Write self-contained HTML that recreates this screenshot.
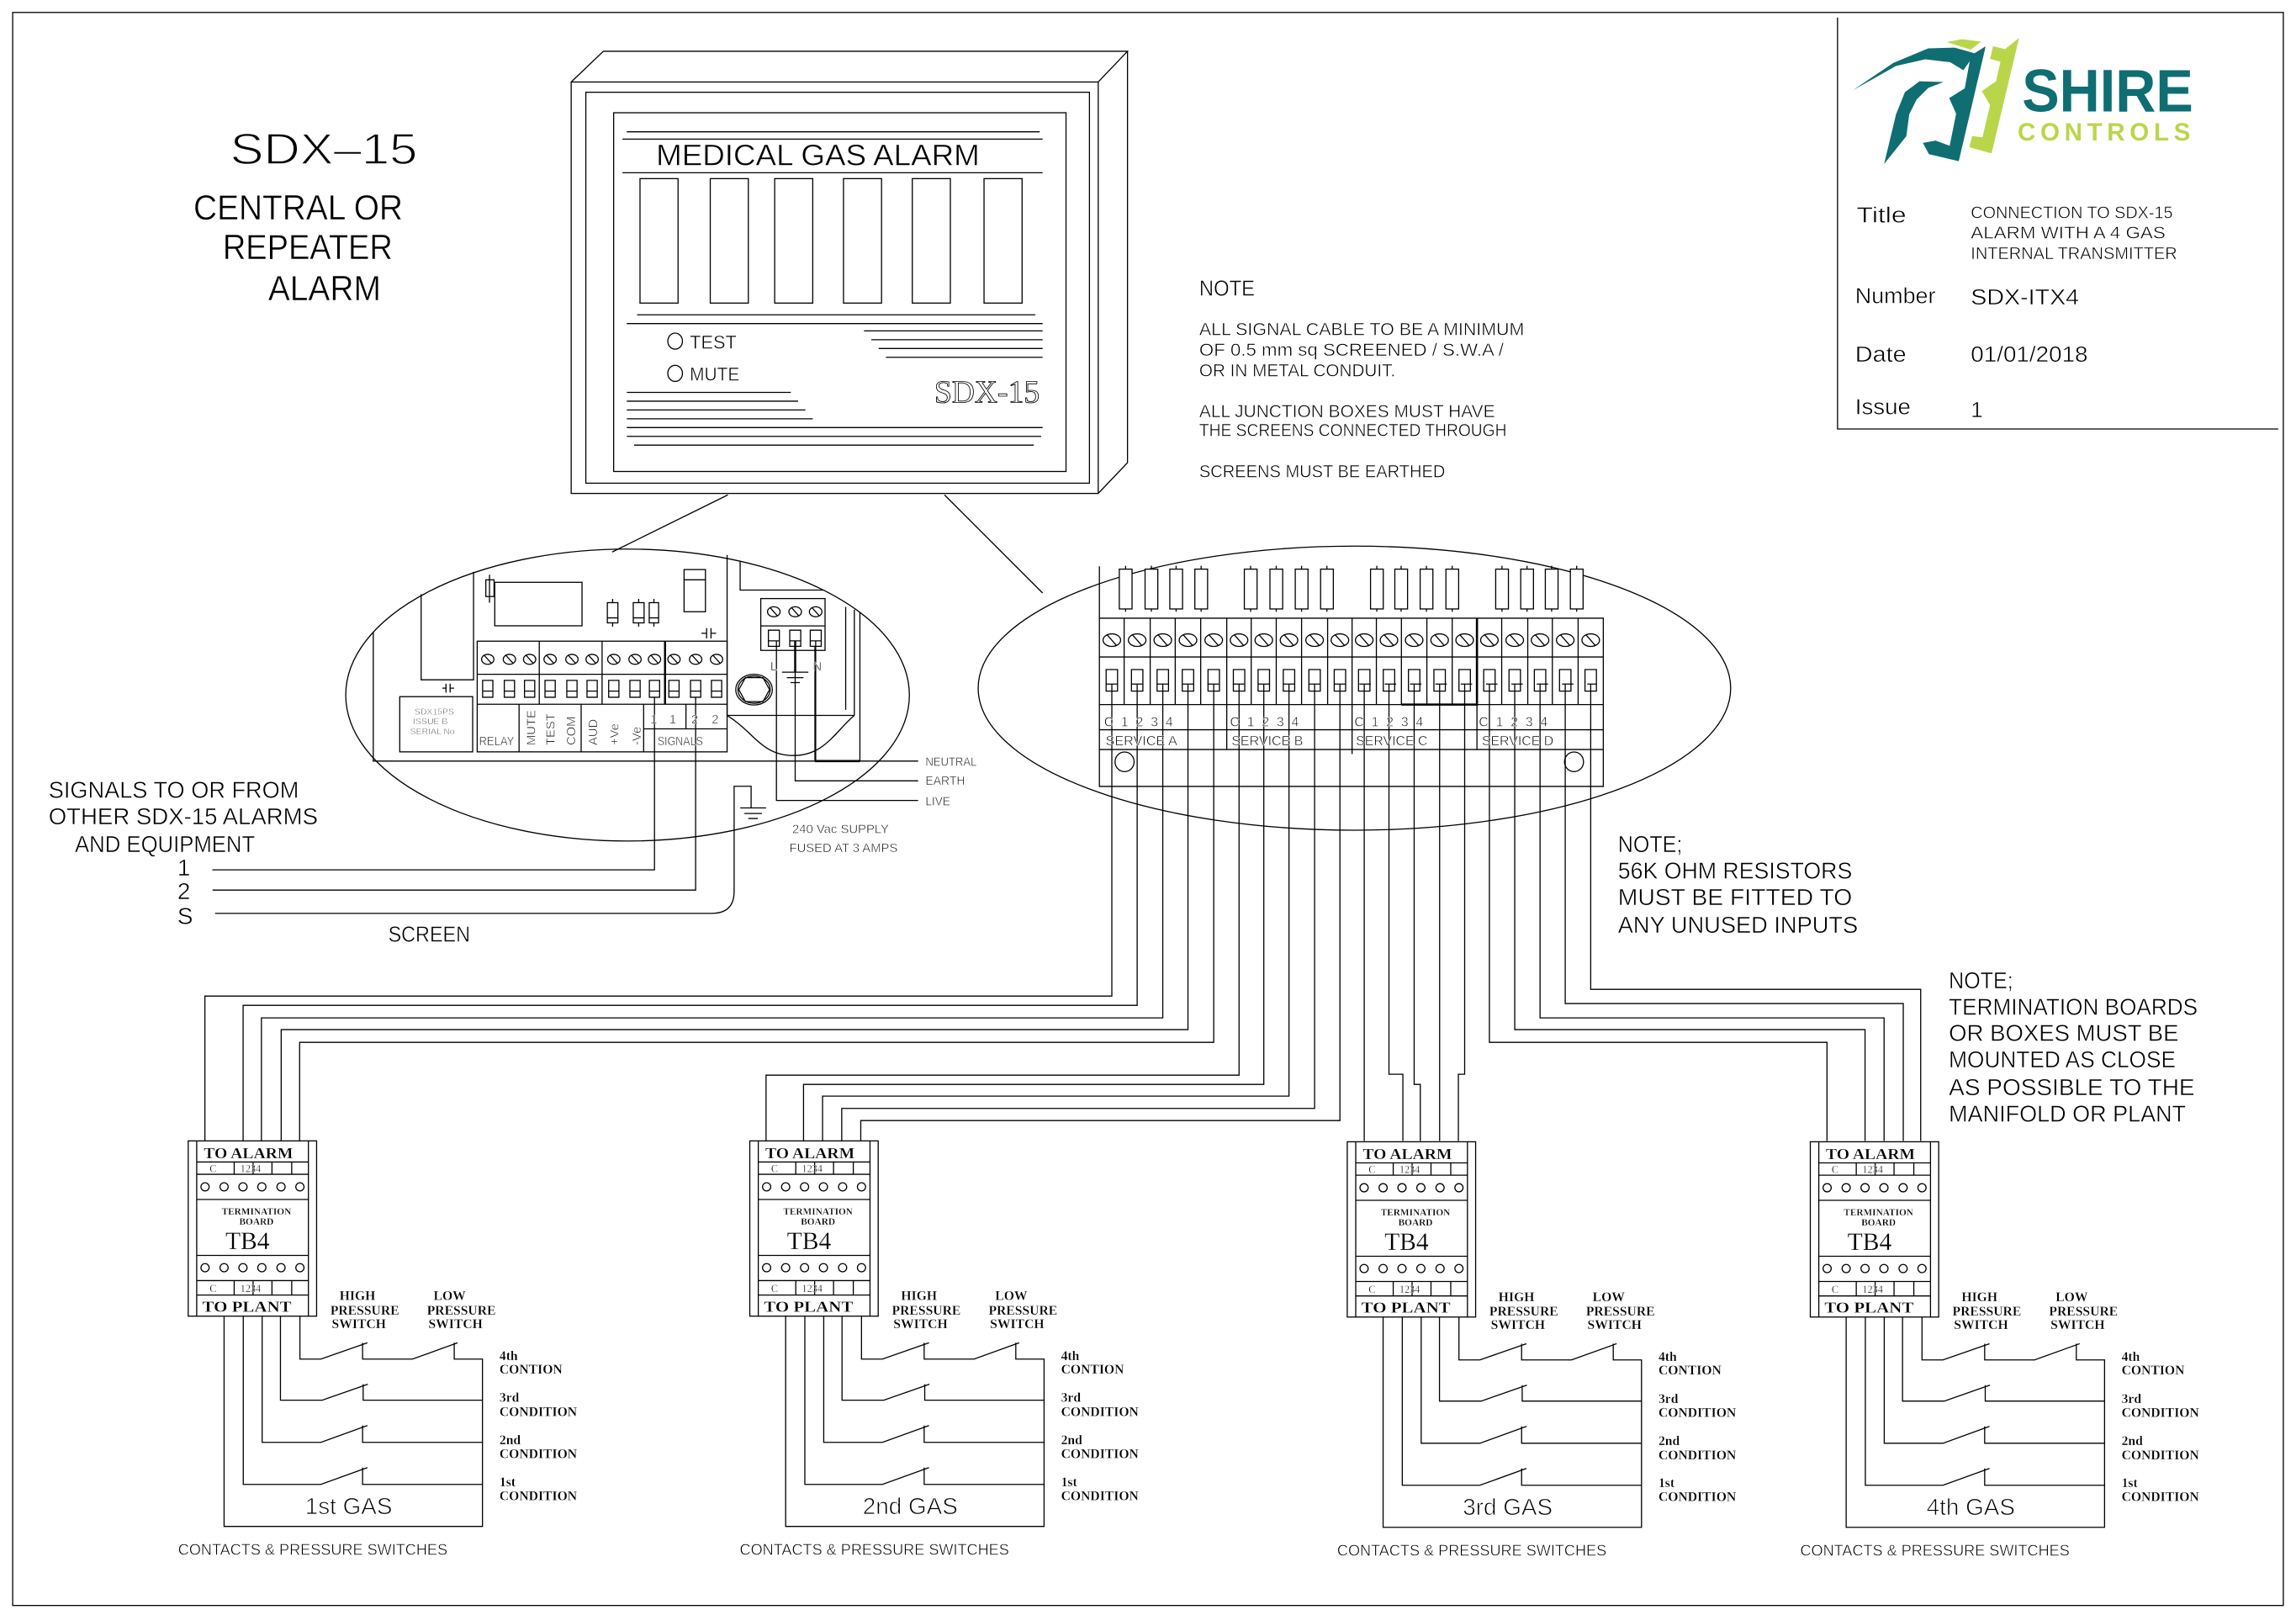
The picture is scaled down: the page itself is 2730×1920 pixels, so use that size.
<!DOCTYPE html>
<html><head><meta charset="utf-8"><style>
html,body{margin:0;padding:0;background:#fff}
svg{display:block}
text{font-family:"Liberation Sans",sans-serif;fill:#000;stroke:#fff;stroke-width:0.3}
.s text,text.s{font-family:"Liberation Serif",serif;font-weight:bold;stroke-width:0.15}
.sn text,text.sn{font-family:"Liberation Serif",serif;stroke-width:0.15}
text.ol{fill:none;stroke:#000;stroke-width:0.5}
</style></head><body>
<svg width="2730" height="1920" viewBox="0 0 1568 1103" xmlns="http://www.w3.org/2000/svg">
<rect width="1568" height="1103" fill="#fff"/>
<g fill="none" stroke="#000" stroke-width="0.75">
<rect x="8.5" y="8.5" width="1551" height="1088"/>
<path d="M1255,12 V293 H1556"/>
<rect x="390" y="56" width="360" height="281"/>
<path d="M390,56 L412,35 H770 L750,56 M770,35 V316 L750,337"/>
<rect x="400" y="63" width="344" height="267"/>
<rect x="419" y="77" width="309" height="245"/>
<path d="M428,90 H710 M425,95 H712 M425,118 H712 M435,215 H707 M428,221 H712 M590,226 H712 M595,232 H712 M600,238 H712 M605,244 H712 M428,268 H540 M428,274 H545 M428,280 H550 M428,286 H555 M428,292 H712 M428,298 H711 M433,304 H706"/>
<rect x="437" y="122" width="26" height="85"/><rect x="485" y="122" width="26" height="85"/><rect x="529" y="122" width="26" height="85"/><rect x="576" y="122" width="26" height="85"/><rect x="623" y="122" width="26" height="85"/><rect x="672" y="122" width="26" height="85"/>
<ellipse cx="461" cy="233" rx="5" ry="5.5"/><ellipse cx="461" cy="255" rx="5" ry="5.5"/>
<path d="M497,338 L418,377 M645,338 L712,405"/>
<ellipse cx="428.5" cy="474.7" rx="192.5" ry="99.7"/>
<ellipse cx="925" cy="470" rx="257" ry="97"/>
<path d="M254.8,431.8 V519.8 H627 M323.3,390.6 V464.3 H287.5 V405.9"/>
<path d="M304.5,467 V473 M307.3,467 V473 M302,470 H304.5 M307.3,470 H310"/>
<rect x="272.9" y="475.8" width="49.8" height="37.7"/>
<path d="M334.2,392.5 V411.6"/><rect x="331.7" y="396" width="5.6" height="11.4"/>
<rect x="337.8" y="397.7" width="59.6" height="29.7"/>
<path d="M418.3,409 V428 M436.1,409 V428 M446.5,409 V428"/>
<rect x="414.7" y="411.6" width="7.2" height="13.8" fill="#fff"/><rect x="432.4" y="411.6" width="7.4" height="13.8" fill="#fff"/><rect x="443.3" y="411.6" width="6.4" height="13.8" fill="#fff"/>
<path d="M414.7,422 H421.9 M432.4,422 H439.8 M443.3,422 H449.7"/>
<rect x="467.1" y="389" width="14.6" height="28.8"/><path d="M467.1,396 H481.7"/>
<path d="M482.5,429 V436 M485.5,429 V436 M479,432.5 H482.5 M485.5,432.5 H489"/>
<rect x="325.8" y="437.9" width="170.7" height="75.6"/>
<path d="M325.8,460.5 H496.5 M325.8,481 H496.5 M439.5,497.8 H496.5 M368.2,437.9 V481 M411.1,437.9 V481 M354.4,481 V513.5 M396.8,481 V513.5 M439.5,481 V513.5 M468.4,481 V497.8"/>
<path d="M454.1,437.9 V481" stroke-width="1.4"/>
<g>
<ellipse cx="333" cy="450.3" rx="4.2" ry="3.4"/><ellipse cx="347.8" cy="450.3" rx="4.2" ry="3.4"/><ellipse cx="361.6" cy="450.3" rx="4.2" ry="3.4"/><ellipse cx="375.6" cy="450.3" rx="4.2" ry="3.4"/><ellipse cx="390.5" cy="450.3" rx="4.2" ry="3.4"/><ellipse cx="404.3" cy="450.3" rx="4.2" ry="3.4"/><ellipse cx="419.1" cy="450.3" rx="4.2" ry="3.4"/><ellipse cx="433.6" cy="450.3" rx="4.2" ry="3.4"/><ellipse cx="446.9" cy="450.3" rx="4.2" ry="3.4"/><ellipse cx="460.2" cy="450.3" rx="4.2" ry="3.4"/><ellipse cx="475" cy="450.3" rx="4.2" ry="3.4"/><ellipse cx="489.3" cy="450.3" rx="4.2" ry="3.4"/>
</g>
<path d="M330.5,447.5 L335.5,453 M345.3,447.5 L350.3,453 M359.1,447.5 L364.1,453 M373.1,447.5 L378.1,453 M388,447.5 L393,453 M401.8,447.5 L406.8,453 M416.6,447.5 L421.6,453 M431.1,447.5 L436.1,453 M444.4,447.5 L449.4,453 M457.7,447.5 L462.7,453 M472.5,447.5 L477.5,453 M486.8,447.5 L491.8,453"/>
<path d="M329.5,464.7 h7 v11.5 h-7 z M344.3,464.7 h7 v11.5 h-7 z M358.1,464.7 h7 v11.5 h-7 z M372.1,464.7 h7 v11.5 h-7 z M387,464.7 h7 v11.5 h-7 z M400.8,464.7 h7 v11.5 h-7 z M415.6,464.7 h7 v11.5 h-7 z M430.1,464.7 h7 v11.5 h-7 z M443.4,464.7 h7 v11.5 h-7 z M456.7,464.7 h7 v11.5 h-7 z M471.5,464.7 h7 v11.5 h-7 z M485.8,464.7 h7 v11.5 h-7 z"/>
<path d="M329.5,472 h7 M344.3,472 h7 M358.1,472 h7 M372.1,472 h7 M387,472 h7 M400.8,472 h7 M415.6,472 h7 M430.1,472 h7 M443.4,472 h7 M456.7,472 h7 M471.5,472 h7 M485.8,472 h7"/>
<path d="M496.5,379 V488.6 H583.4 M505.4,383 V403 H562.2 M577.5,414.5 V484.8 M583.4,416.4 V488.6 M587.2,418.3 V519.8 M556.5,441 V519.8"/>
<path d="M556.5,519.8 H587.2" stroke-width="1.5"/>
<path d="M496.5,488.6 C515,500 520,516 541.7,516 C563,516 570,500 583.4,488.6"/>
<rect x="519.5" y="408.8" width="43.9" height="35.4"/><path d="M519.5,427.5 H563.4"/>
<ellipse cx="528.4" cy="417.8" rx="4.3" ry="3.4"/><ellipse cx="543" cy="417.8" rx="4.3" ry="3.4"/><ellipse cx="557" cy="417.8" rx="4.3" ry="3.4"/>
<path d="M525.9,415 L530.9,420.6 M540.5,415 L545.5,420.6 M554.5,415 L559.5,420.6"/>
<path d="M524.7,430.4 h7.5 v11 h-7.5 z M539.3,430.4 h7.5 v11 h-7.5 z M553.3,430.4 h7.5 v11 h-7.5 z M524.7,437.7 h7.5 M539.3,437.7 h7.5 M553.3,437.7 h7.5"/>
<path d="M543,437.7 V533.3 H627 M530.2,437.7 V546.7 H627 M557,437.7 V519.8" />
<path d="M543,437.7 V459" stroke-width="1.4"/>
<path d="M534,459.1 H552 M537.3,462.8 H548.7 M539.8,466.2 H546.2"/>
<ellipse cx="514.9" cy="471" rx="12.5" ry="10.5"/><ellipse cx="514.9" cy="471" rx="11" ry="9.3"/>
<path d="M509,462.8 L521,462.8 L525.5,471 L521,479.2 L509,479.2 L504.5,471 Z"/>
<path d="M446.9,476 V594.1 H144.9 M475,476 V607.9 H145 M146.8,623.8 H485.9 Q501.3,623.8 501.3,608.8 V537 H512.9 V551.8"/>
<path d="M505.5,551.8 H523.1 M508.3,555.6 H520.3 M511,559 H517.5"/>
<path d="M750.8,386.8 V537.1 H1095 V422.2 H750.8 M750.8,448.7 H1095 M750.8,481.2 H1095 M750.8,498.4 H1095 M750.8,511.9 H1095 M837.8,481.2 V511.9 M923.4,481.2 V515 M1008.7,481.2 V511.9"/>
<path d="M767.7,422.2 V481.2 M785.5,422.2 V481.2 M802.6,422.2 V481.2 M820,422.2 V481.2 M837.8,422.2 V481.2 M854.5,422.2 V481.2 M871.6,422.2 V481.2 M888.9,422.2 V481.2 M906.7,422.2 V481.2 M923.4,422.2 V481.2 M940,422.2 V481.2 M957.1,448.7 V481.2 M974.5,422.2 V481.2 M991.8,422.2 V481.2 M1025.6,422.2 V481.2 M1043.4,422.2 V481.2 M1060.2,422.2 V481.2 M1077.8,422.2 V481.2 M957.1,422.2 V448.7"/>
<path d="M1008.7,422.2 V481.2 H957.1" stroke-width="1.5"/>
<path d="M768.7,386.4 V417.8 M786.3,386.4 V417.8 M803.2,386.4 V417.8 M820.3,386.4 V417.8 M854.1,386.4 V417.8 M871.6,386.4 V417.8 M888.9,386.4 V417.8 M906.2,386.4 V417.8 M940.3,386.4 V417.8 M956.9,386.4 V417.8 M974.2,386.4 V417.8 M991.8,386.4 V417.8 M1025.8,386.4 V417.8 M1042.9,386.4 V417.8 M1059.7,386.4 V417.8 M1076.8,386.4 V417.8"/>
<g fill="#fff">
<rect x="764.4" y="388.7" width="8.7" height="27.2"/><rect x="782" y="388.7" width="8.7" height="27.2"/><rect x="798.9" y="388.7" width="8.7" height="27.2"/><rect x="816" y="388.7" width="8.7" height="27.2"/>
<rect x="849.8" y="388.7" width="8.7" height="27.2"/><rect x="867.3" y="388.7" width="8.7" height="27.2"/><rect x="884.6" y="388.7" width="8.7" height="27.2"/><rect x="901.9" y="388.7" width="8.7" height="27.2"/>
<rect x="936" y="388.7" width="8.7" height="27.2"/><rect x="952.6" y="388.7" width="8.7" height="27.2"/><rect x="969.9" y="388.7" width="8.7" height="27.2"/><rect x="987.5" y="388.7" width="8.7" height="27.2"/>
<rect x="1021.5" y="388.7" width="8.7" height="27.2"/><rect x="1038.6" y="388.7" width="8.7" height="27.2"/><rect x="1055.4" y="388.7" width="8.7" height="27.2"/><rect x="1072.5" y="388.7" width="8.7" height="27.2"/>
</g>
<g>
<ellipse cx="759.3" cy="437.2" rx="6" ry="4.3"/><ellipse cx="776.6" cy="437.2" rx="6" ry="4.3"/><ellipse cx="794.1" cy="437.2" rx="6" ry="4.3"/><ellipse cx="811.3" cy="437.2" rx="6" ry="4.3"/><ellipse cx="828.9" cy="437.2" rx="6" ry="4.3"/><ellipse cx="846.2" cy="437.2" rx="6" ry="4.3"/><ellipse cx="863.1" cy="437.2" rx="6" ry="4.3"/><ellipse cx="880.3" cy="437.2" rx="6" ry="4.3"/><ellipse cx="897.8" cy="437.2" rx="6" ry="4.3"/><ellipse cx="915.1" cy="437.2" rx="6" ry="4.3"/><ellipse cx="931.7" cy="437.2" rx="6" ry="4.3"/><ellipse cx="948.6" cy="437.2" rx="6" ry="4.3"/><ellipse cx="965.8" cy="437.2" rx="6" ry="4.3"/><ellipse cx="983.2" cy="437.2" rx="6" ry="4.3"/><ellipse cx="1000.3" cy="437.2" rx="6" ry="4.3"/><ellipse cx="1017.2" cy="437.2" rx="6" ry="4.3"/><ellipse cx="1034.5" cy="437.2" rx="6" ry="4.3"/><ellipse cx="1051.8" cy="437.2" rx="6" ry="4.3"/><ellipse cx="1069" cy="437.2" rx="6" ry="4.3"/><ellipse cx="1086.4" cy="437.2" rx="6" ry="4.3"/>
</g>
<path d="M756,433.5 L762.6,441 M773.3,433.5 L779.9,441 M790.8,433.5 L797.4,441 M808,433.5 L814.6,441 M825.6,433.5 L832.2,441 M842.9,433.5 L849.5,441 M859.8,433.5 L866.4,441 M877,433.5 L883.6,441 M894.5,433.5 L901.1,441 M911.8,433.5 L918.4,441 M928.4,433.5 L935,441 M945.3,433.5 L951.9,441 M962.5,433.5 L969.1,441 M979.9,433.5 L986.5,441 M997,433.5 L1003.6,441 M1013.9,433.5 L1020.5,441 M1031.2,433.5 L1037.8,441 M1048.5,433.5 L1055.1,441 M1065.7,433.5 L1072.3,441 M1083.1,433.5 L1089.7,441"/>
<path d="M755.4,457.3 h7.8 v14.7 h-7.8 z M772.7,457.3 h7.8 v14.7 h-7.8 z M790.2,457.3 h7.8 v14.7 h-7.8 z M807.4,457.3 h7.8 v14.7 h-7.8 z M825,457.3 h7.8 v14.7 h-7.8 z M842.3,457.3 h7.8 v14.7 h-7.8 z M859.2,457.3 h7.8 v14.7 h-7.8 z M876.4,457.3 h7.8 v14.7 h-7.8 z M893.9,457.3 h7.8 v14.7 h-7.8 z M911.2,457.3 h7.8 v14.7 h-7.8 z M927.8,457.3 h7.8 v14.7 h-7.8 z M944.7,457.3 h7.8 v14.7 h-7.8 z M961.9,457.3 h7.8 v14.7 h-7.8 z M979.3,457.3 h7.8 v14.7 h-7.8 z M996.4,457.3 h7.8 v14.7 h-7.8 z M1013.3,457.3 h7.8 v14.7 h-7.8 z M1030.6,457.3 h7.8 v14.7 h-7.8 z M1047.9,457.3 h7.8 v14.7 h-7.8 z M1065.1,457.3 h7.8 v14.7 h-7.8 z M1082.5,457.3 h7.8 v14.7 h-7.8 z"/>
<path d="M755.4,467.2 H1090.3" stroke-dasharray="7.8,9.5"/>
<ellipse cx="768" cy="520.3" rx="6.5" ry="6.7"/><ellipse cx="1075" cy="520.3" rx="6.5" ry="6.7"/>
<path d="M759.3,467.2 V680.3 H139.8 V779.2 M776.6,467.2 V686.6 H165.9 V779.2 M794.1,467.2 V695.2 H178.4 V779.2 M811.3,467.2 V703.2 H191.9 V779.2 M828.9,467.2 V711.9 H204.5 V779.2"/>
<path d="M846.2,467.2 V734.3 H523.1 V779.2 M863.1,467.2 V740.6 H548.7 V779.2 M880.3,467.2 V748.6 H561.7 V779.2 M897.8,467.2 V757 H574.8 V779.2 M915.1,467.2 V765.3 H587.8 V779.2"/>
<path d="M931.7,467.2 V779.2 M948.6,467.2 V733.7 H958.1 V779.2 M965.8,467.2 V740.6 H970 V779.2 M983.2,467.2 V779.2 M1000.3,467.2 V733.7 H996 V779.2"/>
<path d="M1017.2,467.2 V711.9 H1247.8 V779.2 M1034.5,467.2 V703.2 H1273.8 V779.2 M1051.8,467.2 V695.2 H1286.8 V779.2 M1069,467.2 V685.4 H1299.9 V779.2 M1086.4,467.2 V675.7 H1311.8 V779.2"/>
<g id="tb">
<rect x="128.4" y="779.2" width="87.7" height="119.7"/>
<path d="M134.2,779.2 V898.9 M210.5,779.2 V898.9 M134.2,793.6 H210.5 M134.2,802 H210.5 M134.2,819.2 H210.5 M134.2,857.4 H210.5 M134.2,874.6 H210.5 M134.2,884.5 H210.5"/>
<path d="M159.8,793.6 V802 M185.6,793.6 V802 M199.1,793.6 V802 M172.7,794 V802 M159.8,874.6 V884.5 M185.6,874.6 V884.5 M199.1,874.6 V884.5 M172.7,875 V884.5"/>
<circle cx="139.9" cy="810.6" r="2.8"/><circle cx="152.9" cy="810.6" r="2.8"/><circle cx="165.8" cy="810.6" r="2.8"/><circle cx="178.7" cy="810.6" r="2.8"/><circle cx="191.8" cy="810.6" r="2.8"/><circle cx="204.7" cy="810.6" r="2.8"/>
<circle cx="139.9" cy="865.8" r="2.8"/><circle cx="152.9" cy="865.8" r="2.8"/><circle cx="165.8" cy="865.8" r="2.8"/><circle cx="178.7" cy="865.8" r="2.8"/><circle cx="191.8" cy="865.8" r="2.8"/><circle cx="204.7" cy="865.8" r="2.8"/>
<path d="M204.7,898.9 V928.2 H219 L250.8,917.1 M247.5,917.1 V928.2 H281.6 L312.4,917.1 M310.1,917.1 V928.2 H329.4 V1042.5 H152.9 V898.9"/>
<path d="M191.4,898.9 V956.3 H219.9 L251.1,945.4 M247.9,945.4 V956.3 H329.4"/>
<path d="M178.9,898.9 V985.1 H219 L250.8,973.6 M247.5,973.6 V985.1 H329.4"/>
<path d="M166,898.9 V1013.8 H219 L250.8,1002.3 M247.5,1002.3 V1013.8 H329.4"/>
</g>
<use href="#tb" transform="translate(383.6,0)"/>
<use href="#tb" transform="translate(791.7,0.6)"/>
<use href="#tb" transform="translate(1108,0.6)"/>
</g>
<text x="638" y="275" class="sn ol" font-size="22" textLength="72" lengthAdjust="spacingAndGlyphs">SDX-15</text>
<g>
<polygon fill="#0e6e72" points="1265.4,61.7 1293,43 1317,33 1335,32.5 1349,36.5 1341,48 1332,42.5 1315,40.5 1295,45"/>
<polygon fill="#0e6e72" points="1356.2,31.6 1337.8,110.1 1317.4,105.3 1313.3,97.6 1322,96 1331.6,99.6 1336,77.6 1331.3,67 1341.9,60.3 1346,38"/>
<polygon fill="#0e6e72" points="1286.8,112 1295,78 1301,63 1311,55.5 1327.5,56 1317,60 1309,68 1304,78 1302,93"/>
<polygon fill="#b9d64a" points="1329.6,28.7 1340,26.8 1353,28.4 1346,34 "/>
<polygon fill="#b9d64a" points="1361.2,31.6 1369.4,33.5 1379,25.9 1360.2,104.8 1345,100.5 1347,92.9 1354,93.8 1359.2,71.8 1353.5,62.2 1363.3,55.5 1366.3,42.1 1359.2,40.2"/>
<text x="1381" y="76" font-size="41" font-weight="bold" style="fill:#0e6e72;stroke:none" textLength="117" lengthAdjust="spacingAndGlyphs">SHIRE</text>
<text x="1378" y="96" font-size="17" font-weight="bold" style="fill:#b9d64a;stroke:none" textLength="118" lengthAdjust="spacing">CONTROLS</text>
</g>
<text x="157" y="112" font-size="30" textLength="128" lengthAdjust="spacingAndGlyphs" style="stroke-width:0.8">SDX–15</text>
<g style="stroke-width:0.7">
<text x="132" y="150" font-size="24" textLength="143" lengthAdjust="spacingAndGlyphs">CENTRAL OR</text>
<text x="152" y="177" font-size="24" textLength="116" lengthAdjust="spacingAndGlyphs">REPEATER</text>
<text x="183" y="205" font-size="24" textLength="77" lengthAdjust="spacingAndGlyphs">ALARM</text>
<text x="448" y="113" font-size="20" textLength="221" lengthAdjust="spacingAndGlyphs">MEDICAL GAS ALARM</text>
</g>
<text x="471" y="238" font-size="13" textLength="32" lengthAdjust="spacingAndGlyphs">TEST</text>
<text x="471" y="260" font-size="13" textLength="34" lengthAdjust="spacingAndGlyphs">MUTE</text>
<text x="819" y="202" font-size="15" textLength="38" lengthAdjust="spacingAndGlyphs">NOTE</text>
<g font-size="12">
<text x="819" y="229" textLength="222" lengthAdjust="spacingAndGlyphs">ALL SIGNAL CABLE TO BE A MINIMUM</text>
<text x="819" y="243" textLength="208" lengthAdjust="spacingAndGlyphs">OF 0.5 mm sq SCREENED / S.W.A /</text>
<text x="819" y="257" textLength="134" lengthAdjust="spacingAndGlyphs">OR IN METAL CONDUIT.</text>
<text x="819" y="285" textLength="202" lengthAdjust="spacingAndGlyphs">ALL JUNCTION BOXES MUST HAVE</text>
<text x="819" y="298" textLength="210" lengthAdjust="spacingAndGlyphs">THE SCREENS CONNECTED THROUGH</text>
<text x="819" y="326" textLength="168" lengthAdjust="spacingAndGlyphs">SCREENS MUST BE EARTHED</text>
</g>
<g font-size="16" style="stroke-width:0.5">
<text x="1105" y="582" textLength="44" lengthAdjust="spacingAndGlyphs">NOTE;</text>
<text x="1105" y="600" textLength="160" lengthAdjust="spacingAndGlyphs">56K OHM RESISTORS</text>
<text x="1105" y="618" textLength="160" lengthAdjust="spacingAndGlyphs">MUST BE FITTED TO</text>
<text x="1105" y="637" textLength="164" lengthAdjust="spacingAndGlyphs">ANY UNUSED INPUTS</text>
<text x="1331" y="675" textLength="44" lengthAdjust="spacingAndGlyphs">NOTE;</text>
<text x="1331" y="693" textLength="170" lengthAdjust="spacingAndGlyphs">TERMINATION BOARDS</text>
<text x="1331" y="711" textLength="157" lengthAdjust="spacingAndGlyphs">OR BOXES MUST BE</text>
<text x="1331" y="729" textLength="155" lengthAdjust="spacingAndGlyphs">MOUNTED AS CLOSE</text>
<text x="1331" y="748" textLength="168" lengthAdjust="spacingAndGlyphs">AS POSSIBLE TO THE</text>
<text x="1331" y="766" textLength="162" lengthAdjust="spacingAndGlyphs">MANIFOLD OR PLANT</text>
<text x="33" y="545" textLength="171" lengthAdjust="spacingAndGlyphs">SIGNALS TO OR FROM</text>
<text x="33" y="563" textLength="184" lengthAdjust="spacingAndGlyphs">OTHER SDX-15 ALARMS</text>
<text x="51" y="582" textLength="123" lengthAdjust="spacingAndGlyphs">AND EQUIPMENT</text>
<text x="121" y="598">1</text>
<text x="121" y="614">2</text>
<text x="121" y="631">S</text>
</g>
<text x="265" y="643" font-size="15" textLength="56" lengthAdjust="spacingAndGlyphs">SCREEN</text>
<g font-size="8.5">
<text x="541" y="569" textLength="66" lengthAdjust="spacingAndGlyphs">240 Vac SUPPLY</text>
<text x="539" y="582" textLength="74" lengthAdjust="spacingAndGlyphs">FUSED AT 3 AMPS</text>
<text x="632" y="523" textLength="35" lengthAdjust="spacingAndGlyphs">NEUTRAL</text>
<text x="632" y="536" textLength="27" lengthAdjust="spacingAndGlyphs">EARTH</text>
<text x="632" y="550" textLength="17" lengthAdjust="spacingAndGlyphs">LIVE</text>
</g>
<g font-size="6">
<text x="283" y="488">SDX15PS</text><text x="282" y="494.5">ISSUE B</text><text x="280" y="501.5">SERIAL No</text>
</g>
<g font-size="8.5">
<text x="327" y="509" textLength="24" lengthAdjust="spacingAndGlyphs">RELAY</text>
<text x="449" y="509" textLength="31" lengthAdjust="spacingAndGlyphs">SIGNALS</text>
<text x="444" y="494">1</text><text x="457" y="494">1</text><text x="472" y="494">2</text><text x="486" y="494">2</text>
<text x="526" y="458">L</text><text x="555" y="458">N</text>
<text transform="translate(365.5,509) rotate(-90)">MUTE</text>
<text transform="translate(378.8,509) rotate(-90)">TEST</text>
<text transform="translate(392.9,509) rotate(-90)">COM</text>
<text transform="translate(407.7,509) rotate(-90)">AUD</text>
<text transform="translate(422.5,509) rotate(-90)">+Ve</text>
<text transform="translate(437.6,509) rotate(-90)">-Ve</text>
</g>
<g font-size="9">
<text x="754" y="496" textLength="47" lengthAdjust="spacing">C1234</text>
<text x="840" y="496" textLength="47" lengthAdjust="spacing">C1234</text>
<text x="925" y="496" textLength="47" lengthAdjust="spacing">C1234</text>
<text x="1010" y="496" textLength="47" lengthAdjust="spacing">C1234</text>
<text x="755" y="509" textLength="49" lengthAdjust="spacingAndGlyphs">SERVICE A</text>
<text x="841" y="509" textLength="49" lengthAdjust="spacingAndGlyphs">SERVICE B</text>
<text x="926" y="509" textLength="49" lengthAdjust="spacingAndGlyphs">SERVICE C</text>
<text x="1012" y="509" textLength="49" lengthAdjust="spacingAndGlyphs">SERVICE D</text>
</g>
<text x="1268" y="152" font-size="15" textLength="34" lengthAdjust="spacingAndGlyphs">Title</text>
<g font-size="11.5">
<text x="1346" y="149" textLength="138" lengthAdjust="spacingAndGlyphs">CONNECTION TO SDX-15</text>
<text x="1346" y="163" textLength="133" lengthAdjust="spacingAndGlyphs">ALARM WITH A 4 GAS</text>
<text x="1346" y="177" textLength="141" lengthAdjust="spacingAndGlyphs">INTERNAL TRANSMITTER</text>
</g>
<g font-size="15">
<text x="1267" y="207" textLength="55" lengthAdjust="spacingAndGlyphs">Number</text>
<text x="1346" y="208" textLength="74" lengthAdjust="spacingAndGlyphs">SDX-ITX4</text>
<text x="1267" y="247" textLength="35" lengthAdjust="spacingAndGlyphs">Date</text>
<text x="1346" y="247" textLength="80" lengthAdjust="spacingAndGlyphs">01/01/2018</text>
<text x="1267" y="283" textLength="38" lengthAdjust="spacingAndGlyphs">Issue</text>
<text x="1346" y="285">1</text>
</g>
<g>
<text class="s" x="139" y="791" font-size="10.5" textLength="61" lengthAdjust="spacingAndGlyphs">TO ALARM</text>
<text class="s" x="138" y="896" font-size="10.5" textLength="61" lengthAdjust="spacingAndGlyphs">TO PLANT</text>
<text class="sn" x="143" y="800.5" font-size="7">C</text><text class="sn" x="164" y="800.5" font-size="7">1234</text>
<text class="sn" x="143" y="882.5" font-size="7">C</text><text class="sn" x="164" y="882.5" font-size="7">1234</text>
<text class="s" x="175" y="829.5" font-size="6.5" text-anchor="middle">TERMINATION</text>
<text class="s" x="175" y="836.5" font-size="6.5" text-anchor="middle">BOARD</text>
<text class="sn" x="168.9" y="853" font-size="17" text-anchor="middle">TB4</text>
<g class="s" font-size="9" text-anchor="middle">
<text x="244" y="888">HIGH</text><text x="249" y="898">PRESSURE</text><text x="245" y="907">SWITCH</text>
<text x="307" y="888">LOW</text><text x="315" y="898">PRESSURE</text><text x="311" y="907">SWITCH</text>
</g>
<g class="s" font-size="9">
<text x="341" y="929">4th</text><text x="341" y="938">CONTION</text>
<text x="341" y="957.5">3rd</text><text x="341" y="967">CONDITION</text>
<text x="341" y="986.5">2nd</text><text x="341" y="996">CONDITION</text>
<text x="341" y="1015">1st</text><text x="341" y="1024.5">CONDITION</text>
</g>
<text x="238" y="1034" font-size="16" text-anchor="middle" style="stroke-width:0.5">1st GAS</text>
<text x="121.5" y="1062" font-size="10.5" textLength="184" lengthAdjust="spacingAndGlyphs">CONTACTS &amp; PRESSURE SWITCHES</text>
</g>
<g transform="translate(383.6,0)">
<text class="s" x="139" y="791" font-size="10.5" textLength="61" lengthAdjust="spacingAndGlyphs">TO ALARM</text>
<text class="s" x="138" y="896" font-size="10.5" textLength="61" lengthAdjust="spacingAndGlyphs">TO PLANT</text>
<text class="sn" x="143" y="800.5" font-size="7">C</text><text class="sn" x="164" y="800.5" font-size="7">1234</text>
<text class="sn" x="143" y="882.5" font-size="7">C</text><text class="sn" x="164" y="882.5" font-size="7">1234</text>
<text class="s" x="175" y="829.5" font-size="6.5" text-anchor="middle">TERMINATION</text>
<text class="s" x="175" y="836.5" font-size="6.5" text-anchor="middle">BOARD</text>
<text class="sn" x="168.9" y="853" font-size="17" text-anchor="middle">TB4</text>
<g class="s" font-size="9" text-anchor="middle">
<text x="244" y="888">HIGH</text><text x="249" y="898">PRESSURE</text><text x="245" y="907">SWITCH</text>
<text x="307" y="888">LOW</text><text x="315" y="898">PRESSURE</text><text x="311" y="907">SWITCH</text>
</g>
<g class="s" font-size="9">
<text x="341" y="929">4th</text><text x="341" y="938">CONTION</text>
<text x="341" y="957.5">3rd</text><text x="341" y="967">CONDITION</text>
<text x="341" y="986.5">2nd</text><text x="341" y="996">CONDITION</text>
<text x="341" y="1015">1st</text><text x="341" y="1024.5">CONDITION</text>
</g>
<text x="238" y="1034" font-size="16" text-anchor="middle" style="stroke-width:0.5">2nd GAS</text>
<text x="121.5" y="1062" font-size="10.5" textLength="184" lengthAdjust="spacingAndGlyphs">CONTACTS &amp; PRESSURE SWITCHES</text>
</g>
<g transform="translate(791.7,0.6)">
<text class="s" x="139" y="791" font-size="10.5" textLength="61" lengthAdjust="spacingAndGlyphs">TO ALARM</text>
<text class="s" x="138" y="896" font-size="10.5" textLength="61" lengthAdjust="spacingAndGlyphs">TO PLANT</text>
<text class="sn" x="143" y="800.5" font-size="7">C</text><text class="sn" x="164" y="800.5" font-size="7">1234</text>
<text class="sn" x="143" y="882.5" font-size="7">C</text><text class="sn" x="164" y="882.5" font-size="7">1234</text>
<text class="s" x="175" y="829.5" font-size="6.5" text-anchor="middle">TERMINATION</text>
<text class="s" x="175" y="836.5" font-size="6.5" text-anchor="middle">BOARD</text>
<text class="sn" x="168.9" y="853" font-size="17" text-anchor="middle">TB4</text>
<g class="s" font-size="9" text-anchor="middle">
<text x="244" y="888">HIGH</text><text x="249" y="898">PRESSURE</text><text x="245" y="907">SWITCH</text>
<text x="307" y="888">LOW</text><text x="315" y="898">PRESSURE</text><text x="311" y="907">SWITCH</text>
</g>
<g class="s" font-size="9">
<text x="341" y="929">4th</text><text x="341" y="938">CONTION</text>
<text x="341" y="957.5">3rd</text><text x="341" y="967">CONDITION</text>
<text x="341" y="986.5">2nd</text><text x="341" y="996">CONDITION</text>
<text x="341" y="1015">1st</text><text x="341" y="1024.5">CONDITION</text>
</g>
<text x="238" y="1034" font-size="16" text-anchor="middle" style="stroke-width:0.5">3rd GAS</text>
<text x="121.5" y="1062" font-size="10.5" textLength="184" lengthAdjust="spacingAndGlyphs">CONTACTS &amp; PRESSURE SWITCHES</text>
</g>
<g transform="translate(1108,0.6)">
<text class="s" x="139" y="791" font-size="10.5" textLength="61" lengthAdjust="spacingAndGlyphs">TO ALARM</text>
<text class="s" x="138" y="896" font-size="10.5" textLength="61" lengthAdjust="spacingAndGlyphs">TO PLANT</text>
<text class="sn" x="143" y="800.5" font-size="7">C</text><text class="sn" x="164" y="800.5" font-size="7">1234</text>
<text class="sn" x="143" y="882.5" font-size="7">C</text><text class="sn" x="164" y="882.5" font-size="7">1234</text>
<text class="s" x="175" y="829.5" font-size="6.5" text-anchor="middle">TERMINATION</text>
<text class="s" x="175" y="836.5" font-size="6.5" text-anchor="middle">BOARD</text>
<text class="sn" x="168.9" y="853" font-size="17" text-anchor="middle">TB4</text>
<g class="s" font-size="9" text-anchor="middle">
<text x="244" y="888">HIGH</text><text x="249" y="898">PRESSURE</text><text x="245" y="907">SWITCH</text>
<text x="307" y="888">LOW</text><text x="315" y="898">PRESSURE</text><text x="311" y="907">SWITCH</text>
</g>
<g class="s" font-size="9">
<text x="341" y="929">4th</text><text x="341" y="938">CONTION</text>
<text x="341" y="957.5">3rd</text><text x="341" y="967">CONDITION</text>
<text x="341" y="986.5">2nd</text><text x="341" y="996">CONDITION</text>
<text x="341" y="1015">1st</text><text x="341" y="1024.5">CONDITION</text>
</g>
<text x="238" y="1034" font-size="16" text-anchor="middle" style="stroke-width:0.5">4th GAS</text>
<text x="121.5" y="1062" font-size="10.5" textLength="184" lengthAdjust="spacingAndGlyphs">CONTACTS &amp; PRESSURE SWITCHES</text>
</g>
</svg>
</body></html>
